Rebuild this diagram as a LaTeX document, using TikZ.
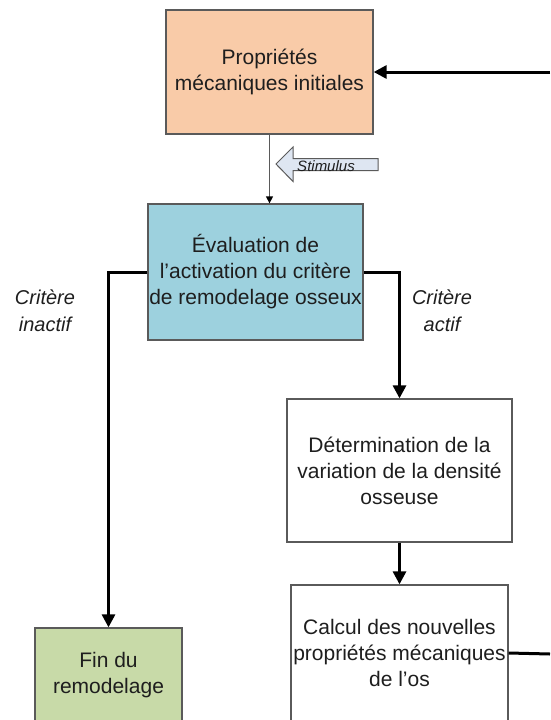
\documentclass[tikz,border=0pt]{standalone}
\usepackage{fontspec}
\setmainfont{Liberation Sans}
\usetikzlibrary{arrows.meta}
\definecolor{peach}{RGB}{249,203,168}
\definecolor{aqua}{RGB}{157,209,222}
\definecolor{sage}{RGB}{200,218,168}
\definecolor{edgegray}{RGB}{90,90,90}
\definecolor{txt}{RGB}{30,30,30}
\definecolor{stimfill}{RGB}{222,230,242}
\begin{document}
\begin{tikzpicture}[x=1pt,y=-1pt,
  box/.style={draw=edgegray,line width=1.3pt,align=center,text=txt,
    font=\fontsize{21}{26}\selectfont,inner sep=0pt},
  flow/.style={line width=3pt,-{Triangle[length=13pt,width=13pt]}},
  flowline/.style={line width=3pt},
  thinflow/.style={draw=edgegray,line width=1.3pt,-{Triangle[length=7pt,width=7pt,color=black]}},
  lbl/.style={align=center,text=txt,font=\fontsize{20}{27}\selectfont\itshape}
]
\useasboundingbox (0,0) rectangle (550,720);

\node[box,fill=peach,minimum width=207pt,minimum height=124pt] (init) at (269.5,72)
  {Propriétés\\mécaniques initiales};
\node[box,fill=aqua,minimum width=215pt,minimum height=136pt] (eval) at (255.5,272)
  {Évaluation de\\l’activation du critère\\de remodelage osseux};
\node[box,fill=white,minimum width=225pt,minimum height=143pt] (det) at (399.5,470.5)
  {Détermination de la\\variation de la densité\\osseuse};
\node[box,fill=white,minimum width=217pt,minimum height=136pt] (calc) at (399.5,653)
  {Calcul des nouvelles\\propriétés mécaniques\\de l’os};
\node[box,fill=sage,minimum width=147pt,minimum height=94pt] (fin) at (108.5,675)
  {Fin du\\remodelage};

\node[lbl] (inact) at (45,311) {Critère\\inactif};
\node[lbl] (act) at (442,311) {Critère\\actif};

\coordinate (fbtop) at (550,72);
\coordinate (fbbot) at (550,654);

\draw[flow] (fbtop) -- (init.east);
\draw[flowline] (calc.east) -- (fbbot);
\draw[thinflow] (init.south) -- (init.south |- eval.north);
\draw[flow] (eval.west) -| (fin.north);
\draw[flow] (eval.east) -| (det.north);
\draw[flow] (det.south) -- (calc.north);

% Stimulus block arrow
\draw[draw=edgegray,fill=stimfill,line width=1pt,line join=miter]
  (276,164) -- (293,147) -- (293,158.5) -- (378,158.5) -- (378,170.5)
  -- (293,170.5) -- (293,181.5) -- cycle;
\node[text=txt,font=\fontsize{15}{17}\selectfont\itshape,inner sep=0pt] (stim) at (326,166) {Stimulus};
\end{tikzpicture}
\end{document}
